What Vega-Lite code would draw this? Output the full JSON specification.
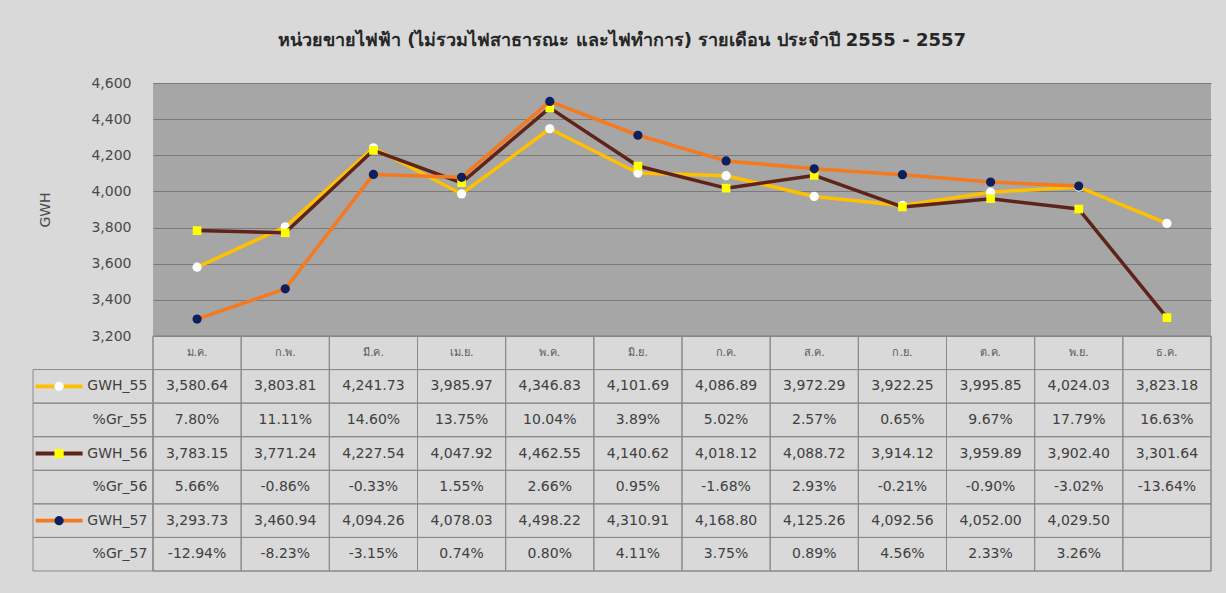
{
  "$schema": "https://vega.github.io/schema/vega-lite/v6.json",
  "background": "#d9d9d9",
  "padding": {"left": 32, "top": 32, "right": 16, "bottom": 22},
  "autosize": {"type": "pad"},
  "title": {
    "text": "หน่วยขายไฟฟ้า (ไม่รวมไฟสาธารณะ และไฟทำการ) รายเดือน ประจำปี 2555 - 2557",
    "anchor": "middle",
    "fontSize": 18,
    "fontWeight": "bold",
    "color": "#262626",
    "font": "Tahoma, DejaVu Sans, sans-serif",
    "offset": 26
  },
  "datasets": {
    "m": [
      {"month": "ม.ค.", "GWH_55": 3580.64, "%Gr_55": 0.0780, "GWH_56": 3783.15, "%Gr_56": 0.0566, "GWH_57": 3293.73, "%Gr_57": -0.1294},
      {"month": "ก.พ.", "GWH_55": 3803.81, "%Gr_55": 0.1111, "GWH_56": 3771.24, "%Gr_56": -0.0086, "GWH_57": 3460.94, "%Gr_57": -0.0823},
      {"month": "มี.ค.", "GWH_55": 4241.73, "%Gr_55": 0.1460, "GWH_56": 4227.54, "%Gr_56": -0.0033, "GWH_57": 4094.26, "%Gr_57": -0.0315},
      {"month": "เม.ย.", "GWH_55": 3985.97, "%Gr_55": 0.1375, "GWH_56": 4047.92, "%Gr_56": 0.0155, "GWH_57": 4078.03, "%Gr_57": 0.0074},
      {"month": "พ.ค.", "GWH_55": 4346.83, "%Gr_55": 0.1004, "GWH_56": 4462.55, "%Gr_56": 0.0266, "GWH_57": 4498.22, "%Gr_57": 0.0080},
      {"month": "มิ.ย.", "GWH_55": 4101.69, "%Gr_55": 0.0389, "GWH_56": 4140.62, "%Gr_56": 0.0095, "GWH_57": 4310.91, "%Gr_57": 0.0411},
      {"month": "ก.ค.", "GWH_55": 4086.89, "%Gr_55": 0.0502, "GWH_56": 4018.12, "%Gr_56": -0.0168, "GWH_57": 4168.80, "%Gr_57": 0.0375},
      {"month": "ส.ค.", "GWH_55": 3972.29, "%Gr_55": 0.0257, "GWH_56": 4088.72, "%Gr_56": 0.0293, "GWH_57": 4125.26, "%Gr_57": 0.0089},
      {"month": "ก.ย.", "GWH_55": 3922.25, "%Gr_55": 0.0065, "GWH_56": 3914.12, "%Gr_56": -0.0021, "GWH_57": 4092.56, "%Gr_57": 0.0456},
      {"month": "ต.ค.", "GWH_55": 3995.85, "%Gr_55": 0.0967, "GWH_56": 3959.89, "%Gr_56": -0.0090, "GWH_57": 4052.00, "%Gr_57": 0.0233},
      {"month": "พ.ย.", "GWH_55": 4024.03, "%Gr_55": 0.1779, "GWH_56": 3902.40, "%Gr_56": -0.0302, "GWH_57": 4029.50, "%Gr_57": 0.0326},
      {"month": "ธ.ค.", "GWH_55": 3823.18, "%Gr_55": 0.1663, "GWH_56": 3301.64, "%Gr_56": -0.1364}
    ],
    "rows": [
      {"row": "hdr"},
      {"row": "GWH_55", "series": "55"},
      {"row": "%Gr_55"},
      {"row": "GWH_56", "series": "56"},
      {"row": "%Gr_56"},
      {"row": "GWH_57", "series": "57"},
      {"row": "%Gr_57"}
    ]
  },
  "columns": 2,
  "spacing": 0,
  "bounds": "flush",
  "align": "each",
  "resolve": {"scale": {"x": "independent", "y": "independent", "color": "independent", "fill": "independent", "shape": "independent"}},
  "concat": [
    {
      "width": 120,
      "height": 253,
      "data": {"values": []},
      "mark": {"type": "point", "opacity": 0},
      "encoding": {}
    },
    {
      "width": 1058,
      "height": 253,
      "view": {"fill": "#a6a6a6", "stroke": null},
      "data": {"name": "m"},
      "transform": [
        {"fold": ["GWH_55", "GWH_56", "GWH_57"], "as": ["series", "gwh"]},
        {"filter": "isValid(datum.gwh)"}
      ],
      "encoding": {
        "x": {"field": "month", "type": "nominal", "sort": null, "axis": null,
              "scale": {"type": "point", "padding": 0.5, "domain": ["ม.ค.", "ก.พ.", "มี.ค.", "เม.ย.", "พ.ค.", "มิ.ย.", "ก.ค.", "ส.ค.", "ก.ย.", "ต.ค.", "พ.ย.", "ธ.ค."]}},
        "y": {"field": "gwh", "type": "quantitative", "title": "GWH",
              "scale": {"domain": [3200, 4600], "zero": false, "nice": false},
              "axis": {"values": [3200, 3400, 3600, 3800, 4000, 4200, 4400, 4600], "tickCount": 8, "format": ",d", "grid": true, "gridColor": "#7a7a7a", "gridOpacity": 1, "labelOverlap": false, "domain": false, "ticks": false, "labelPadding": 22, "labelFlush": false, "labelFontSize": 14, "labelFont": "DejaVu Sans", "labelColor": "#4a4a4a", "titleFont": "DejaVu Sans", "titleFontSize": 14, "titleFontWeight": "normal", "titleColor": "#4a4a4a", "titlePadding": 38}}
      },
      "layer": [
        {
          "transform": [{"filter": "datum.series == 'GWH_55'"}],
          "mark": {"type": "line", "color": "#FFC000", "strokeWidth": 3.5, "strokeJoin": "round"}
        },
        {
          "transform": [{"filter": "datum.series == 'GWH_55'"}],
          "mark": {"type": "point", "filled": true, "fill": "#ffffff", "shape": "circle", "size": 85, "opacity": 1, "strokeWidth": 0}
        },
        {
          "transform": [{"filter": "datum.series == 'GWH_56'"}],
          "mark": {"type": "line", "color": "#5e2419", "strokeWidth": 3.5, "strokeJoin": "round"}
        },
        {
          "transform": [{"filter": "datum.series == 'GWH_56'"}],
          "mark": {"type": "point", "filled": true, "fill": "#ffff00", "shape": "square", "size": 75, "opacity": 1, "strokeWidth": 0}
        },
        {
          "transform": [{"filter": "datum.series == 'GWH_57'"}],
          "mark": {"type": "line", "color": "#f47a20", "strokeWidth": 3.5, "strokeJoin": "round"}
        },
        {
          "transform": [{"filter": "datum.series == 'GWH_57'"}],
          "mark": {"type": "point", "filled": true, "fill": "#0d1f5c", "shape": "circle", "size": 85, "opacity": 1, "strokeWidth": 0}
        }
      ]
    },
    {
      "width": 120,
      "height": 235,
      "data": {"name": "rows"},
      "transform": [{"filter": "datum.row != 'hdr'"}],
      "layer": [
        {
          "mark": {"type": "rect", "filled": false, "color": "#8a8a8a", "strokeWidth": 1},
          "encoding": {
            "y": {"field": "row", "type": "nominal", "sort": null, "axis": null,
                  "scale": {"type": "band", "domain": ["hdr", "GWH_55", "%Gr_55", "GWH_56", "%Gr_56", "GWH_57", "%Gr_57"], "paddingInner": 0, "paddingOuter": 0}}
          }
        },
        {
          "mark": {"type": "text", "align": "right", "baseline": "middle", "dx": 10, "fontSize": 14, "font": "DejaVu Sans", "color": "#404040"},
          "encoding": {
            "x": {"datum": "nm", "type": "nominal", "bandPosition": 1, "axis": null,
                  "scale": {"type": "band", "domain": ["sw", "nm"], "paddingInner": 0, "paddingOuter": 0.15, "align": 0}},
            "y": {"field": "row", "type": "nominal", "sort": null, "axis": null},
            "text": {"field": "row"}
          }
        },
        {
          "transform": [{"filter": "isValid(datum.series)"}],
          "mark": {"type": "point", "filled": true, "opacity": 1, "strokeWidth": 0, "size": 2209, "shape": "M-1,-0.08L1,-0.08L1,0.08L-1,0.08Z"},
          "encoding": {
            "x": {"datum": "sw", "type": "nominal", "axis": null},
            "y": {"field": "row", "type": "nominal", "sort": null, "axis": null},
            "color": {"field": "series", "type": "nominal", "legend": null,
                      "scale": {"domain": ["55", "56", "57"], "range": ["#FFC000", "#5e2419", "#f47a20"]}}
          }
        },
        {
          "transform": [{"filter": "isValid(datum.series)"}],
          "mark": {"type": "point", "filled": true, "opacity": 1, "strokeWidth": 0, "size": 85},
          "encoding": {
            "x": {"datum": "sw", "type": "nominal", "axis": null},
            "y": {"field": "row", "type": "nominal", "sort": null, "axis": null},
            "fill": {"field": "series", "type": "nominal", "legend": null,
                     "scale": {"domain": ["55", "56", "57"], "range": ["#ffffff", "#ffff00", "#0d1f5c"]}},
            "shape": {"field": "series", "type": "nominal", "legend": null,
                      "scale": {"domain": ["55", "56", "57"], "range": ["circle", "square", "circle"]}}
          }
        }
      ]
    },
    {
      "width": 1058,
      "height": 235,
      "data": {"name": "m"},
      "layer": [
        {
          "mark": {"type": "rect", "filled": false, "color": "#8a8a8a", "strokeWidth": 1},
          "encoding": {
            "x": {"field": "month", "type": "nominal", "sort": null, "axis": null,
                  "scale": {"type": "band", "paddingInner": 0, "paddingOuter": 0, "domain": ["ม.ค.", "ก.พ.", "มี.ค.", "เม.ย.", "พ.ค.", "มิ.ย.", "ก.ค.", "ส.ค.", "ก.ย.", "ต.ค.", "พ.ย.", "ธ.ค."]}}
          }
        },
        {
          "data": {"name": "rows"},
          "mark": {"type": "rect", "filled": false, "color": "#8a8a8a", "strokeWidth": 1},
          "encoding": {
            "y": {"field": "row", "type": "nominal", "sort": null, "axis": null,
                  "scale": {"type": "band", "domain": ["hdr", "GWH_55", "%Gr_55", "GWH_56", "%Gr_56", "GWH_57", "%Gr_57"], "paddingInner": 0, "paddingOuter": 0}}
          }
        },
        {
          "mark": {"type": "text", "baseline": "middle", "fontSize": 11, "font": "Tahoma, DejaVu Sans, sans-serif", "color": "#5a5a5a"},
          "encoding": {
            "x": {"field": "month", "type": "nominal", "sort": null, "axis": null},
            "y": {"datum": "hdr", "type": "nominal", "axis": null},
            "text": {"field": "month"}
          }
        },
        {
          "transform": [
            {"fold": ["GWH_55", "GWH_56", "GWH_57"], "as": ["row", "val"]},
            {"filter": "isValid(datum.val)"}
          ],
          "mark": {"type": "text", "baseline": "middle", "fontSize": 14, "font": "DejaVu Sans", "color": "#404040"},
          "encoding": {
            "x": {"field": "month", "type": "nominal", "sort": null, "axis": null},
            "y": {"field": "row", "type": "nominal", "sort": null, "axis": null},
            "text": {"field": "val", "type": "quantitative", "format": ",.2f"}
          }
        },
        {
          "transform": [
            {"fold": ["%Gr_55", "%Gr_56", "%Gr_57"], "as": ["row", "val"]},
            {"filter": "isValid(datum.val)"}
          ],
          "mark": {"type": "text", "baseline": "middle", "fontSize": 14, "font": "DejaVu Sans", "color": "#404040"},
          "encoding": {
            "x": {"field": "month", "type": "nominal", "sort": null, "axis": null},
            "y": {"field": "row", "type": "nominal", "sort": null, "axis": null},
            "text": {"field": "val", "type": "quantitative", "format": ".2%"}
          }
        }
      ]
    }
  ],
  "config": {
    "view": {"stroke": null},
    "locale": {"number": {"decimal": ".", "thousands": ",", "grouping": [3], "currency": ["$", ""], "minus": "-"}}
  }
}
